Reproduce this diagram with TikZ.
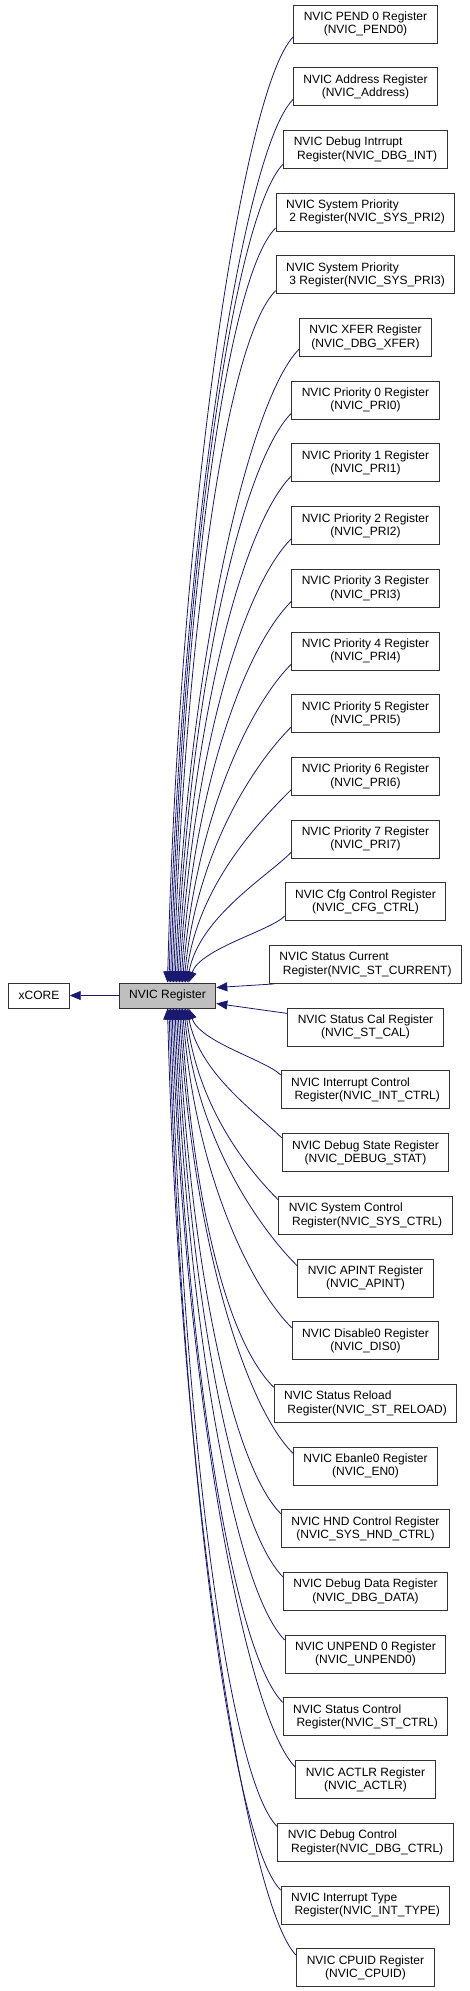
\documentclass[tikz,border=0pt]{standalone}
\usepackage{fontspec}
\setmainfont{Liberation Sans}
\usetikzlibrary{positioning,arrows.meta,calc}
\definecolor{edgeblue}{HTML}{191970}
\tikzset{
  regbox/.style={draw=black!80, line width=0.9pt, fill=white, minimum height=38pt,
    inner xsep=10pt, inner ysep=2pt, font=\fontsize{12}{13.3}\selectfont, align=center},
  leftbox/.style={regbox, align=left},
  rootbox/.style={regbox, minimum height=25pt},
  edge/.style={draw=edgeblue, line width=0.8pt, -{Triangle[length=11pt,width=9pt]}}
}

\begin{document}
\begin{tikzpicture}[x=1pt, y=-1pt, node distance=23.8pt]
  \useasboundingbox (0,0) rectangle (469,1991);

  % register column
  \node[regbox] (pend0) at (365.5,24) {NVIC PEND 0 Register\\(NVIC\_PEND0)};
  \node[regbox, below=of pend0] (addr) {NVIC Address Register\\(NVIC\_Address)};
  \node[leftbox, below=of addr] (dbgint) {NVIC Debug Intrrupt\\\hspace*{0.28em}Register(NVIC\_DBG\_INT)};
  \node[leftbox, below=of dbgint] (syspri2) {NVIC System Priority\\\hspace*{0.28em}2 Register(NVIC\_SYS\_PRI2)};
  \node[leftbox, below=of syspri2] (syspri3) {NVIC System Priority\\\hspace*{0.28em}3 Register(NVIC\_SYS\_PRI3)};
  \node[regbox, below=of syspri3] (xfer) {NVIC XFER Register\\(NVIC\_DBG\_XFER)};
  \node[regbox, below=of xfer] (pri0) {NVIC Priority 0 Register\\(NVIC\_PRI0)};
  \node[regbox, below=of pri0] (pri1) {NVIC Priority 1 Register\\(NVIC\_PRI1)};
  \node[regbox, below=of pri1] (pri2) {NVIC Priority 2 Register\\(NVIC\_PRI2)};
  \node[regbox, below=of pri2] (pri3) {NVIC Priority 3 Register\\(NVIC\_PRI3)};
  \node[regbox, below=of pri3] (pri4) {NVIC Priority 4 Register\\(NVIC\_PRI4)};
  \node[regbox, below=of pri4] (pri5) {NVIC Priority 5 Register\\(NVIC\_PRI5)};
  \node[regbox, below=of pri5] (pri6) {NVIC Priority 6 Register\\(NVIC\_PRI6)};
  \node[regbox, below=of pri6] (pri7) {NVIC Priority 7 Register\\(NVIC\_PRI7)};
  \node[regbox, below=of pri7] (cfgctrl) {NVIC Cfg Control Register\\(NVIC\_CFG\_CTRL)};
  \node[leftbox, below=of cfgctrl] (stcur) {NVIC Status Current\\\hspace*{0.28em}Register(NVIC\_ST\_CURRENT)};
  \node[regbox, below=of stcur] (stcal) {NVIC Status Cal Register\\(NVIC\_ST\_CAL)};
  \node[leftbox, below=of stcal] (intctrl) {NVIC Interrupt Control\\\hspace*{0.28em}Register(NVIC\_INT\_CTRL)};
  \node[regbox, below=of intctrl] (dbgstat) {NVIC Debug State Register\\(NVIC\_DEBUG\_STAT)};
  \node[leftbox, below=of dbgstat] (sysctrl) {NVIC System Control\\\hspace*{0.28em}Register(NVIC\_SYS\_CTRL)};
  \node[regbox, below=of sysctrl] (apint) {NVIC APINT Register\\(NVIC\_APINT)};
  \node[regbox, below=of apint] (dis0) {NVIC Disable0 Register\\(NVIC\_DIS0)};
  \node[leftbox, below=of dis0] (streload) {NVIC Status Reload\\\hspace*{0.28em}Register(NVIC\_ST\_RELOAD)};
  \node[regbox, below=of streload] (en0) {NVIC Ebanle0 Register\\(NVIC\_EN0)};
  \node[regbox, below=of en0] (hndctrl) {NVIC HND Control Register\\(NVIC\_SYS\_HND\_CTRL)};
  \node[regbox, below=of hndctrl] (dbgdata) {NVIC Debug Data Register\\(NVIC\_DBG\_DATA)};
  \node[regbox, below=of dbgdata] (unpend0) {NVIC UNPEND 0 Register\\(NVIC\_UNPEND0)};
  \node[leftbox, below=of unpend0] (stctrl) {NVIC Status Control\\\hspace*{0.28em}Register(NVIC\_ST\_CTRL)};
  \node[regbox, below=of stctrl] (actlr) {NVIC ACTLR Register\\(NVIC\_ACTLR)};
  \node[leftbox, below=of actlr] (dbgctrl) {NVIC Debug Control\\\hspace*{0.28em}Register(NVIC\_DBG\_CTRL)};
  \node[leftbox, below=of dbgctrl] (inttype) {NVIC Interrupt Type\\\hspace*{0.28em}Register(NVIC\_INT\_TYPE)};
  \node[regbox, below=of inttype] (cpuid) {NVIC CPUID Register\\(NVIC\_CPUID)};

  % root
  \node[rootbox, fill=black!25] (nvic) at (167.5,995.5) {NVIC Register};
  \node[rootbox, left=49pt of nvic] (xcore) {xCORE};

  \draw[edge] (nvic) -- (xcore);

  % upper half
  \draw[edge] (pend0.190) .. controls +(-50,50) and +(12,-473) .. ($(nvic.north)+(0,0)$);
  \draw[edge] (addr.190) .. controls +(-50,50) and +(12,-442) .. ($(nvic.north)+(1.5,0)$);
  \draw[edge] (dbgint.190) .. controls +(-50,50) and +(12,-410) .. ($(nvic.north)+(3,0)$);
  \draw[edge] (syspri2.190) .. controls +(-50,50) and +(12,-379) .. ($(nvic.north)+(4.5,0)$);
  \draw[edge] (syspri3.190) .. controls +(-50,50) and +(12,-348) .. ($(nvic.north)+(6,0)$);
  \draw[edge] (xfer.190) .. controls +(-50,50) and +(12,-316) .. ($(nvic.north)+(7.5,0)$);
  \draw[edge] (pri0.190) .. controls +(-50,50) and +(12,-285) .. ($(nvic.north)+(9,0)$);
  \draw[edge] (pri1.190) .. controls +(-50,50) and +(12,-254) .. ($(nvic.north)+(10.5,0)$);
  \draw[edge] (pri2.190) .. controls +(-50,50) and +(12,-222) .. ($(nvic.north)+(12,0)$);
  \draw[edge] (pri3.190) .. controls +(-48,48) and +(12,-191) .. ($(nvic.north)+(13.5,0)$);
  \draw[edge] (pri4.190) .. controls +(-44,44) and +(12,-159) .. ($(nvic.north)+(15,0)$);
  \draw[edge] (pri5.190) .. controls +(-40,40) and +(12,-128) .. ($(nvic.north)+(16.5,0)$);
  \draw[edge] (pri6.190) .. controls +(-33,33) and +(12,-97) .. ($(nvic.north)+(18,0)$);
  \draw[edge] (pri7.190) .. controls +(-25,25) and +(12,-65) .. ($(nvic.north)+(19.5,0)$);
  \draw[edge] (cfgctrl.190) .. controls +(-15,15) and +(12,-34) .. ($(nvic.north)+(21,0)$);

  % straight in from the side
  \draw[edge] (stcur.192) -- ($(nvic.east)+(0,-8)$);
  \draw[edge] (stcal.170) -- ($(nvic.east)+(0,8)$);

  % lower half
  \draw[edge] (intctrl.170) .. controls +(-15,-15) and +(12,34) .. ($(nvic.south)+(21,0)$);
  \draw[edge] (dbgstat.170) .. controls +(-25,-25) and +(12,65) .. ($(nvic.south)+(19.5,0)$);
  \draw[edge] (sysctrl.170) .. controls +(-33,-33) and +(12,97) .. ($(nvic.south)+(18,0)$);
  \draw[edge] (apint.170) .. controls +(-40,-40) and +(12,128) .. ($(nvic.south)+(16.5,0)$);
  \draw[edge] (dis0.170) .. controls +(-44,-44) and +(12,159) .. ($(nvic.south)+(15,0)$);
  \draw[edge] (streload.170) .. controls +(-48,-48) and +(12,191) .. ($(nvic.south)+(13.5,0)$);
  \draw[edge] (en0.170) .. controls +(-50,-50) and +(12,222) .. ($(nvic.south)+(12,0)$);
  \draw[edge] (hndctrl.170) .. controls +(-50,-50) and +(12,254) .. ($(nvic.south)+(10.5,0)$);
  \draw[edge] (dbgdata.170) .. controls +(-50,-50) and +(12,285) .. ($(nvic.south)+(9,0)$);
  \draw[edge] (unpend0.170) .. controls +(-50,-50) and +(12,316) .. ($(nvic.south)+(7.5,0)$);
  \draw[edge] (stctrl.170) .. controls +(-50,-50) and +(12,348) .. ($(nvic.south)+(6,0)$);
  \draw[edge] (actlr.170) .. controls +(-50,-50) and +(12,379) .. ($(nvic.south)+(4.5,0)$);
  \draw[edge] (dbgctrl.170) .. controls +(-50,-50) and +(12,410) .. ($(nvic.south)+(3,0)$);
  \draw[edge] (inttype.170) .. controls +(-50,-50) and +(12,442) .. ($(nvic.south)+(1.5,0)$);
  \draw[edge] (cpuid.170) .. controls +(-50,-50) and +(12,473) .. ($(nvic.south)+(0,0)$);
\end{tikzpicture}
\end{document}
